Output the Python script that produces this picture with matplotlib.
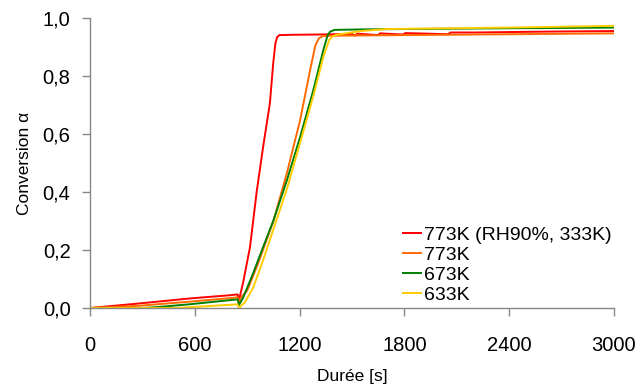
import matplotlib
matplotlib.use('Agg')
import matplotlib.pyplot as plt
from matplotlib.ticker import FuncFormatter

plt.rcParams['font.family'] = ['Liberation Sans', 'DejaVu Sans']

# Conversion vs time
t_red = [0, 286, 572, 800, 845, 853, 862, 876, 916, 954, 991, 1030, 1049, 1062, 1072, 1085,
         1150, 1300, 1500, 1517, 1530, 1649, 1660, 1792, 1805, 2050, 2065, 2200, 2600, 3000]
a_red = [0, 0.016, 0.033, 0.044, 0.047, 0.025, 0.05, 0.086, 0.21, 0.40, 0.555, 0.707, 0.845, 0.915, 0.935, 0.941,
         0.942, 0.943, 0.945, 0.939, 0.946, 0.941, 0.947, 0.943, 0.948, 0.944, 0.950, 0.950, 0.953, 0.955]

t_orange = [0, 286, 572, 800, 845, 853, 862, 900, 960, 1050, 1127, 1203, 1260, 1290, 1310, 1335,
            1400, 1800, 2400, 3000]
a_orange = [0, 0.008, 0.022, 0.034, 0.037, 0.015, 0.035, 0.06, 0.15, 0.30, 0.465, 0.648, 0.82, 0.905, 0.930, 0.938,
            0.939, 0.941, 0.944, 0.947]

t_green = [0, 300, 382, 572, 800, 845, 853, 877, 934, 991, 1049, 1127, 1203, 1278, 1336, 1360, 1375, 1400,
           1600, 2272, 3000]
a_green = [0, 0, 0.003, 0.013, 0.027, 0.030, 0.010, 0.036, 0.12, 0.21, 0.30, 0.44, 0.59, 0.75, 0.89, 0.94, 0.953, 0.959,
           0.961, 0.964, 0.967]

t_yellow = [0, 500, 572, 800, 845, 853, 887, 934, 991, 1049, 1127, 1203, 1278, 1336, 1370, 1390, 1410,
            1550, 1700, 2400, 3000]
a_yellow = [0, 0, 0.003, 0.011, 0.013, 0.0, 0.02, 0.07, 0.165, 0.27, 0.41, 0.57, 0.73, 0.866, 0.925, 0.937, 0.942,
            0.955, 0.962, 0.967, 0.973]

series = [
    ('773K (RH90%, 333K)', t_red, a_red, '#ff0000'),
    ('773K', t_orange, a_orange, '#ff6a00'),
    ('673K', t_green, a_green, '#008000'),
    ('633K', t_yellow, a_yellow, '#ffcc00'),
]

fig = plt.figure(figsize=(6.42, 3.87), dpi=100)
ax = fig.add_axes([0.1402, 0.2041, 0.8162, 0.7494])

for label, t, a, col in series:
    ax.plot(t, a, color=col, linewidth=1.4, label=label)

ax.set_xlim(0, 3000)
ax.set_ylim(0, 1.0)
ax.set_xticks([0, 600, 1200, 1800, 2400, 3000])
ax.set_yticks([0, 0.2, 0.4, 0.6, 0.8, 1.0])
ax.yaxis.set_major_formatter(FuncFormatter(lambda v, p: f'{v:.1f}'.replace('.', ',')))

for s in ['top', 'right']:
    ax.spines[s].set_visible(False)
for s in ['left', 'bottom']:
    ax.spines[s].set_color('#888888')
    ax.spines[s].set_linewidth(1.0)
ax.tick_params(axis='both', colors='#888888', labelcolor='black', length=6, width=1.0, labelsize=14.5)
ax.tick_params(axis='x', pad=14)
ax.tick_params(axis='y', pad=8)

ax.set_xlabel('Durée [s]', fontsize=12.5, labelpad=10)
ax.set_ylabel('Conversion α', fontsize=12.5, labelpad=8)

ax.legend(loc='lower right', bbox_to_anchor=(1.0, 0.008), frameon=False, fontsize=14,
          handlelength=0.9, handletextpad=0.2, labelspacing=0.12, borderpad=0.1, borderaxespad=0.0)

fig.savefig('out.png', dpi=100)
